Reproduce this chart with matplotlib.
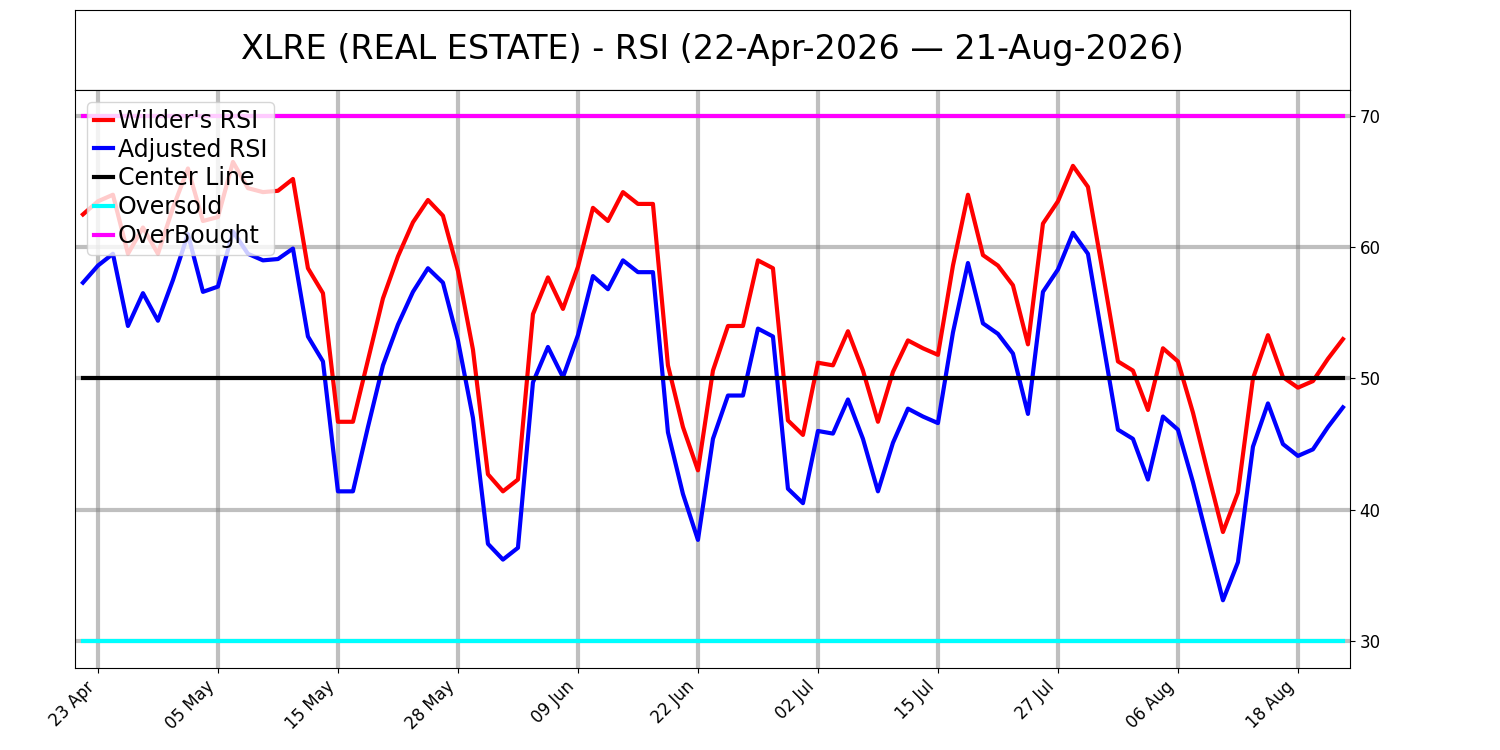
import matplotlib
matplotlib.use("Agg")
import matplotlib.pyplot as plt
import pandas as pd
import numpy as np

holidays = ["2026-05-25", "2026-06-19", "2026-07-03"]
dates = pd.bdate_range("2026-04-22", "2026-08-21", freq="C", holidays=holidays)

wilder = [62.5,63.5,64,59.5,61.5,59.5,63,66,62,62.3,66.5,64.5,64.2,64.3,65.2,58.4,56.5,46.7,46.7,51.4,
          56.1,59.3,61.9,63.6,62.4,58.2,52.2,42.7,41.4,42.3,54.9,57.7,55.3,58.5,63,62,64.2,63.3,63.3,51,
          46.3,43,50.6,54,54,59,58.4,46.8,45.7,51.2,51,53.6,50.6,46.7,50.5,52.9,52.3,51.8,58.6,64,
          59.4,58.6,57.1,52.6,61.8,63.5,66.2,64.6,58,51.3,50.6,47.6,52.3,51.3,47.4,42.8,38.3,41.3,50,53.3,
          50.1,49.3,49.8,51.5,53]
adjusted = [57.3,58.6,59.5,54,56.5,54.4,57.5,61,56.6,57,61.2,59.5,59,59.1,59.9,53.2,51.3,41.4,41.4,46.3,
            51,54.1,56.6,58.4,57.3,52.9,47,37.4,36.2,37.1,49.7,52.4,50.1,53.3,57.8,56.8,59,58.1,58.1,45.9,
            41.2,37.7,45.4,48.7,48.7,53.8,53.2,41.6,40.5,46,45.8,48.4,45.4,41.4,45.1,47.7,47.1,46.6,53.5,58.8,
            54.2,53.4,51.9,47.3,56.6,58.3,61.1,59.5,52.8,46.1,45.4,42.3,47.1,46.1,42.1,37.6,33.1,36,44.8,48.1,
            45,44.1,44.6,46.3,47.8]
center, oversold, overbought = 50, 30, 70

n = min(len(dates), len(wilder))
x = np.arange(n)
fig = plt.figure(figsize=(15, 7.5), dpi=100)
tax = fig.add_axes([75/1500, 660/750, 1275/1500, 80/750])
tax.set_xticks([]); tax.set_yticks([])
tax.text(0.5, 0.5, "XLRE (REAL ESTATE) - RSI (22-Apr-2026 — 21-Aug-2026)", ha="center", va="center", fontsize=24)

ax = fig.add_axes([75/1500, 82/750, 1275/1500, 578/750])
ax.plot(x, wilder[:n], color="red", lw=3, label="Wilder's RSI")
ax.plot(x, adjusted[:n], color="blue", lw=3, label="Adjusted RSI")
ax.plot(x, [center]*n, color="black", lw=3, label="Center Line")
ax.plot(x, [oversold]*n, color="cyan", lw=3, label="Oversold")
ax.plot(x, [overbought]*n, color="magenta", lw=3, label="OverBought")
ax.set_xlim(-0.53, 84.47)
ax.set_ylim(27.94, 71.98)
ax.yaxis.tick_right()
ax.set_yticks([30, 40, 50, 60, 70])
ax.tick_params(labelsize=12)
ticks = list(range(1, n, 8))
ax.set_xticks(ticks)
ax.set_xticklabels([dates[i].strftime("%d %b") for i in ticks], rotation=45, ha="right")
ax.grid(True, color="gray", alpha=0.5, lw=3)
ax.legend(loc="upper left", fontsize=17, handlelength=0.8, handletextpad=0.2, borderpad=0.3, labelspacing=0.2)
fig.savefig("out.png")
